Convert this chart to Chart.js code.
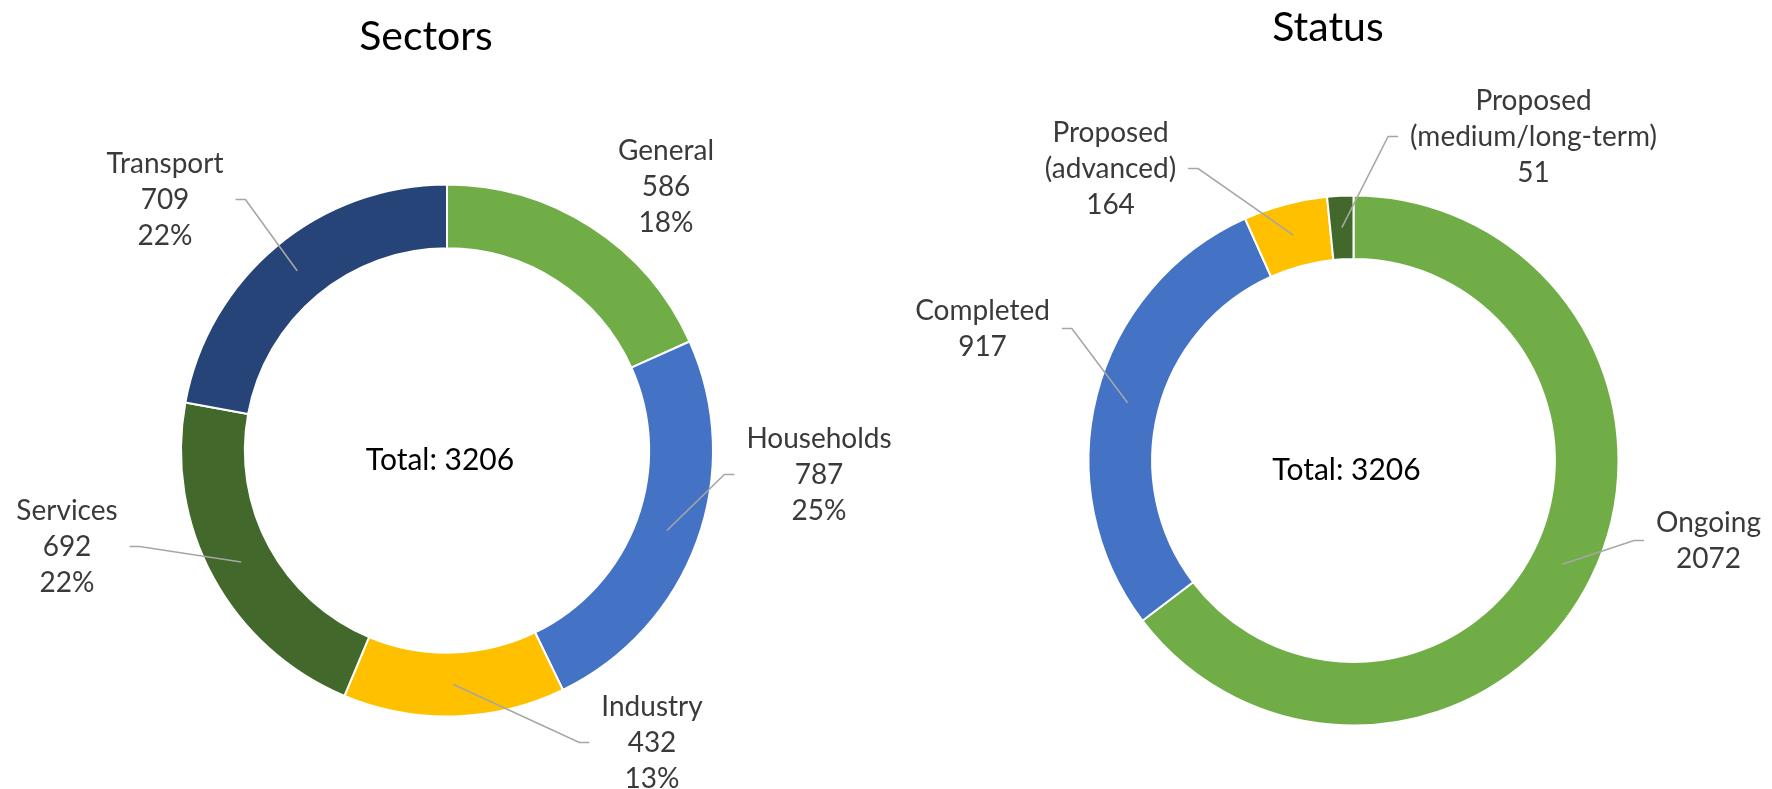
<!DOCTYPE html>
<html>
<head>
<meta charset="utf-8">
<script src="https://cdn.jsdelivr.net/npm/chart.js@4.4.1/dist/chart.umd.min.js"></script>
<style>
  html, body { margin: 0; padding: 0; background: #fff; }
  #wrap { position: relative; width: 1772px; height: 789px; overflow: hidden; }
  #sectorsChart { position: absolute; left: 0; top: 0; }
  #statusChart { position: absolute; left: 840px; top: 0; }
</style>
</head>
<body>
<div id="wrap">
  <canvas id="sectorsChart" width="940" height="789"></canvas>
  <canvas id="statusChart" width="932" height="789"></canvas>
</div>
<script>
// data
var totalProjects = 3206;

var sectorNames = ['General', 'Households', 'Industry', 'Services', 'Transport'];
var sectorValues = [586, 787, 432, 692, 709];
var sectorColors = ['#70AD47', '#4472C4', '#FFC000', '#43682B', '#264478'];

var statusNames = ['Ongoing', 'Completed', 'Proposed (advanced)', 'Proposed (medium/long-term)'];
var statusLines = [['Ongoing'], ['Completed'], ['Proposed', '(advanced)'], ['Proposed', '(medium/long-term)']];
var statusValues = [2072, 917, 164, 51];
var statusColors = ['#70AD47', '#4472C4', '#FFC000', '#43682B'];

// label placement (offset of label block from the donut centre) and leader lines
var sectorLabelOffsets = [[219, -264], [372, 24], [205, 292], [-380, 96], [-282, -251]];
var sectorLeaders = [false, true, true, true, true];
var statusLabelOffsets = [[355, 80], [-371, -132], [-243, -292], [180, -324]];
var statusLeaders = [true, true, true, true];

var panelPlugin = {
  id: 'panelText',
  afterDatasetsDraw: function (chart, args, opts) {
    var ctx = chart.ctx;
    var meta = chart.getDatasetMeta(0);
    var cx = meta.data[0].x, cy = meta.data[0].y;
    ctx.save();

    // title
    ctx.fillStyle = '#000';
    ctx.font = '41px Lato';
    ctx.textAlign = 'center';
    ctx.textBaseline = 'alphabetic';
    ctx.fillText(opts.title, opts.titleX, opts.titleY);

    // centre text
    ctx.font = '30px Lato';
    ctx.textBaseline = 'middle';
    ctx.fillText('Total: ' + totalProjects, cx - 7, cy + 10);

    // data labels
    ctx.font = '28px Lato';
    ctx.fillStyle = '#3a3a3a';
    ctx.strokeStyle = '#A6A6A6';
    ctx.lineWidth = 1.6;
    meta.data.forEach(function (arc, i) {
      var lines = opts.lines[i];
      var lx = cx + opts.offsets[i][0];
      var ly = cy + opts.offsets[i][1];
      var n = lines.length;
      lines.forEach(function (t, k) {
        ctx.fillText(t, lx, ly + (k - (n - 1) / 2) * 36);
      });
      if (opts.leaders[i]) {
        var w = Math.max.apply(null, lines.map(function (t) { return ctx.measureText(t).width; }));
        var a = arc.tooltipPosition();
        var side = a.x < lx ? -1 : 1;
        var x0 = lx + side * (w / 2 + 12);
        var x1 = x0 + side * 10;
        ctx.beginPath();
        ctx.moveTo(x0, ly);
        ctx.lineTo(x1, ly);
        ctx.lineTo(a.x, a.y);
        ctx.stroke();
      }
    });
    ctx.restore();
  }
};

function pct(v, list) {
  var sum = list.reduce(function (s, x) { return s + x; }, 0);
  return Math.round(v / sum * 100) + '%';
}

function makeDonut(id, labels, values, colors, padding, panel) {
  return new Chart(document.getElementById(id), {
    type: 'doughnut',
    data: {
      labels: labels,
      datasets: [{
        data: values,
        backgroundColor: colors,
        borderColor: '#ffffff',
        borderWidth: 2
      }]
    },
    options: {
      responsive: false,
      animation: false,
      cutout: '76%',
      layout: { padding: padding },
      plugins: {
        legend: { display: false },
        tooltip: { enabled: false },
        panelText: panel
      }
    },
    plugins: [panelPlugin]
  });
}

Promise.all([document.fonts.load('28px Lato'), document.fonts.load('41px Lato')]).catch(function () {}).then(function () {
  makeDonut('sectorsChart', sectorNames, sectorValues, sectorColors,
    { left: 180, top: 183.5, right: 226, bottom: 71.5 },
    {
      title: 'Sectors', titleX: 426, titleY: 50,
      lines: sectorNames.map(function (name, i) {
        return [name, String(sectorValues[i]), pct(sectorValues[i], sectorValues)];
      }),
      offsets: sectorLabelOffsets,
      leaders: sectorLeaders
    });

  makeDonut('statusChart', statusNames, statusValues, statusColors,
    { left: 247.5, top: 194.5, right: 152.5, bottom: 62.5 },
    {
      title: 'Status', titleX: 488, titleY: 41,
      lines: statusLines.map(function (l, i) {
        return l.concat([String(statusValues[i])]);
      }),
      offsets: statusLabelOffsets,
      leaders: statusLeaders
    });
});
</script>
</body>
</html>
